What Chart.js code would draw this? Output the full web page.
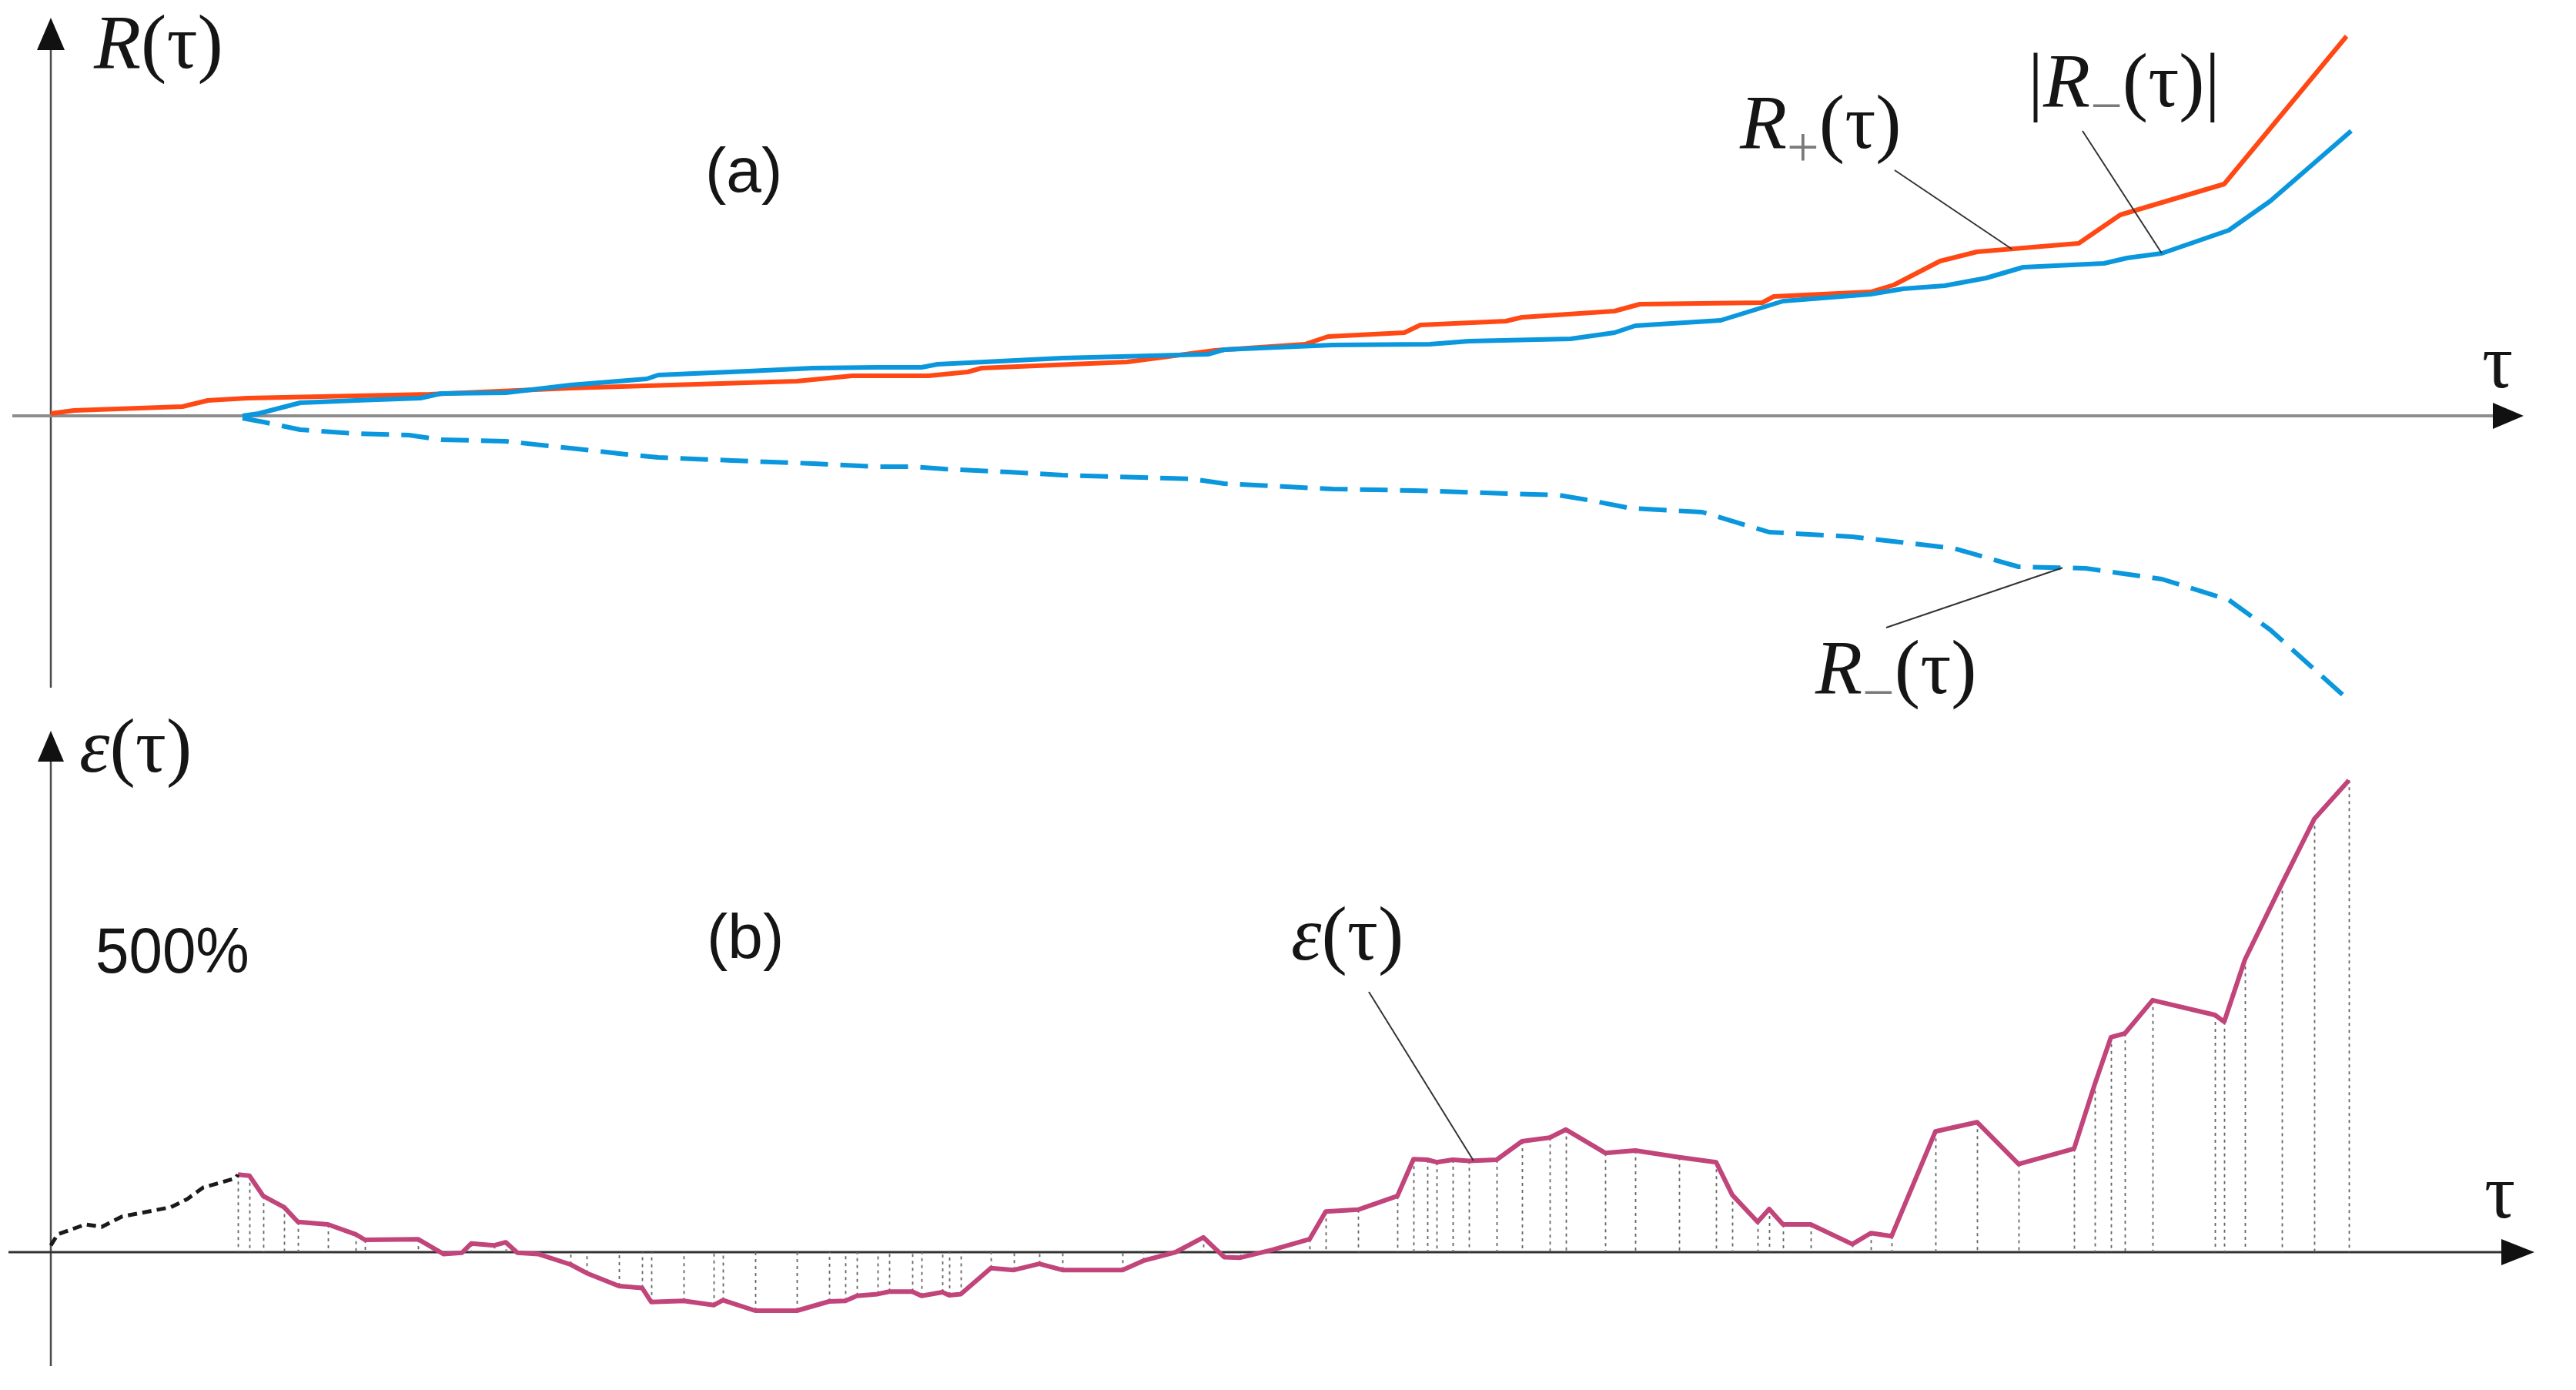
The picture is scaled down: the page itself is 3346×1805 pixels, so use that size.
<!DOCTYPE html>
<html>
<head>
<meta charset="utf-8">
<script src="https://cdn.jsdelivr.net/npm/chart.js@4.4.1/dist/chart.umd.min.js"></script>
<style>
  html, body { margin:0; padding:0; background:#fff; }
  body { width:3346px; height:1805px; overflow:hidden; position:relative; }
  canvas { position:absolute; left:0; }
  .lbl { position:absolute; white-space:nowrap; line-height:normal; color:#151515; }
  .serif { font-family:'Liberation Serif','Times New Roman',serif; font-size:100px; }
  .sans { font-family:'Liberation Sans',Arial,sans-serif; font-size:82px; }
  .sub { font-size:74px; color:#7a7a7a; vertical-align:-24px; }
  .bl { display:inline-block; width:0; height:0; vertical-align:baseline; }
</style>
</head>
<body>
<canvas id="topChart" width="3346" height="920" style="top:0"></canvas>
<canvas id="botChart" width="3346" height="885" style="top:920px"></canvas>
<script>
// ---------------- DATA ----------------
// Panel (a): R+(τ)
const tauRplus = [0.0,1.0,5.7,6.8,8.5,16.4,20.2,22.5,32.3,34.7,38.0,39.7,40.3,46.6,50.4,54.3,55.3,58.6,59.3,63.0,63.7,67.7,68.8,74.1,74.6,78.8,79.8,81.8,83.4,87.8,89.6,94.1,99.4];
const Rplus    = [0.6,1.4,2.4,4.0,4.6,5.6,6.6,7.2,9.0,10.4,10.4,11.4,12.4,14.0,17.0,18.6,20.6,21.6,23.6,24.6,25.6,27.2,29.0,29.4,31.0,32.2,34.0,40.2,42.6,44.8,52.2,60.2,98.6];
// Panel (a): |R-(τ)|
const tauRabs = [8.3,9.0,10.8,13.2,16.0,16.9,19.7,22.5,25.8,26.3,30.2,33.0,35.8,37.7,38.4,43.8,50.1,50.8,55.5,59.7,61.4,65.8,67.7,68.6,72.3,75.0,78.8,80.2,82.0,83.8,85.4,88.9,89.9,91.4,94.3,96.1,99.6];
const Rabs    = [0,0.6,3.4,4.0,4.6,5.8,6.0,8.0,9.6,10.6,11.6,12.4,12.6,12.6,13.4,15.0,16.0,17.2,18.4,18.6,19.4,20.0,21.6,23.4,24.8,29.8,31.6,33.0,33.8,35.8,38.6,39.6,41.0,42.2,48.2,55.8,74.0];
// Panel (a): R-(τ)
const tauRminus = [8.3,9.2,10.8,13.2,15.5,16.9,19.7,22.5,24.9,26.3,29.5,33.0,35.8,37.3,38.7,41.5,43.8,49.4,50.8,55.5,59.0,65.3,66.7,68.4,71.5,74.4,78.0,82.4,85.2,88.1,91.4,94.3,96.1,99.6];
const Rminus    = [-0.6,-1.6,-3.6,-4.6,-5.0,-6.2,-6.6,-8.4,-10.0,-10.8,-11.6,-12.4,-13.2,-13.2,-13.8,-14.6,-15.4,-16.4,-17.6,-19.0,-19.4,-20.6,-22.0,-24.0,-25.0,-30.2,-31.4,-34.4,-39.2,-39.6,-42.4,-47.8,-55.6,-74.4];
// Panel (b): ε(τ), early dashed part (%)
const tauEpsEarly = [0.0,0.3,1.5,2.2,3.1,5.2,5.9,6.6,8.0,8.1];
const epsEarly    = [11,29,45,41,58,73,86,105,120,126];
// Panel (b): ε(τ) (%)
const tauEps = [8.1,8.6,9.2,10.1,10.7,12.0,13.2,13.6,15.9,17.0,17.8,18.2,19.2,19.7,20.2,21.1,22.5,23.2,24.6,25.6,26.0,27.4,28.7,29.1,30.5,32.3,33.7,34.4,34.9,35.8,36.3,37.3,37.7,38.6,38.9,39.4,40.7,41.7,42.8,43.8,46.4,47.3,48.7,49.9,50.8,51.5,52.9,54.5,55.2,56.6,58.3,59.0,59.6,60.0,60.7,61.4,62.6,63.7,64.9,65.6,67.3,68.6,70.5,72.1,72.8,73.9,74.4,75.0,76.2,78.0,78.8,79.7,81.6,83.4,85.2,87.6,88.5,89.2,89.8,91.0,93.7,94.1,95.0,96.6,98.0,99.5];
const eps    = [126,124,91,73,49,45,29,20,21,-3,-1,14,11,16,-1,-3,-20,-34,-55,-58,-81,-79,-86,-78,-95,-95,-80,-79,-71,-68,-64,-64,-71,-65,-70,-68,-26,-29,-19,-29,-29,-14,0,24,-8,-9,4,21,66,69,91,151,150,146,150,148,150,180,186,199,161,165,154,146,93,49,70,45,45,13,31,26,196,211,143,168,273,349,355,409,385,374,475,598,703,766];

// Annotation targets (τ where each leader line touches its curve)
const leaderTauRplus = 84.9;
const leaderTauRabs = 91.4;
const leaderTauRminus = 87.1;
const leaderTauEps = 61.6;

// ---------------- LAYOUT ----------------
const L = {
  xMin:-2.2, xMax:109.333,
  topYMin:-76, topYMax:108,
  botYMin:-223.75, botYMax:882.5,
  top: { yAxisBottom:893, arrowTip:23, arrowBase:65, arrowHalf:18,
         xStart:16, xArrowBase:3238, xArrowTip:3278, xArrowHalf:17 },
  bot: { yAxisBottom:854, arrowTip:29, arrowBase:69, arrowHalf:17,
         xStart:11, xArrowBase:3249, xArrowTip:3292, xArrowHalf:17 },
  leadersTop: [ {from:[2461,221], s:'Rplus'}, {from:[2705,170], s:'Rabs'}, {from:[2450,815], s:'Rminus'} ],
  leadersBot: [ {from:[1778,368], s:'eps'} ]
};
const series = {
  Rplus:[tauRplus,Rplus,leaderTauRplus],
  Rabs:[tauRabs,Rabs,leaderTauRabs],
  Rminus:[tauRminus,Rminus,leaderTauRminus],
  eps:[tauEps,eps,leaderTauEps]
};
const COLORS = { red:'#ff4814', blue:'#0a97dd', magenta:'#c1447a', black:'#1a1a1a' };

function pts(t, v){ return t.map((x,i)=>({x:x, y:v[i]})); }
function ds(t, v, color, width, dash){
  return { data:pts(t,v), borderColor:color, borderWidth:width, borderDash:dash||[],
           pointRadius:0, tension:0, fill:false, borderCapStyle:'butt', borderJoinStyle:'round' };
}
function interp(t, v, q){
  for (let i=1;i<t.length;i++){ if (q<=t[i]){ const f=(q-t[i-1])/(t[i]-t[i-1]); return v[i-1]+f*(v[i]-v[i-1]); } }
  return v[v.length-1];
}
function seg(ctx,x1,y1,x2,y2){ ctx.beginPath(); ctx.moveTo(x1,y1); ctx.lineTo(x2,y2); ctx.stroke(); }
function tri(ctx,a,b,c){ ctx.beginPath(); ctx.moveTo(a[0],a[1]); ctx.lineTo(b[0],b[1]); ctx.lineTo(c[0],c[1]); ctx.closePath(); ctx.fill(); }

function axesPlugin(cfg, xColor, xWidth){
  return {
    id:'axesDecor',
    beforeDatasetsDraw(chart){
      const ctx = chart.ctx, xs = chart.scales.x, ys = chart.scales.y;
      const x0 = xs.getPixelForValue(0), y0 = ys.getPixelForValue(0);
      ctx.save();
      ctx.setLineDash([]);
      ctx.strokeStyle = '#4a4a4a'; ctx.lineWidth = 2.5;
      seg(ctx, x0, cfg.yAxisBottom, x0, cfg.arrowBase);
      ctx.fillStyle = '#111';
      tri(ctx, [x0, cfg.arrowTip], [x0-cfg.arrowHalf, cfg.arrowBase], [x0+cfg.arrowHalf, cfg.arrowBase]);
      ctx.strokeStyle = xColor; ctx.lineWidth = xWidth;
      seg(ctx, cfg.xStart, y0, cfg.xArrowBase, y0);
      tri(ctx, [cfg.xArrowTip, y0], [cfg.xArrowBase, y0-cfg.xArrowHalf], [cfg.xArrowBase, y0+cfg.xArrowHalf]);
      ctx.restore();
    }
  };
}
function leaderPlugin(list){
  return {
    id:'leaders',
    afterDatasetsDraw(chart){
      const ctx = chart.ctx, xs = chart.scales.x, ys = chart.scales.y;
      ctx.save(); ctx.setLineDash([]); ctx.strokeStyle = '#333'; ctx.lineWidth = 2;
      list.forEach(l => {
        const [t,v,q] = series[l.s];
        seg(ctx, l.from[0], l.from[1], xs.getPixelForValue(q), ys.getPixelForValue(interp(t,v,q)));
      });
      ctx.restore();
    }
  };
}
const dropLines = {
  id:'dropLines',
  beforeDatasetsDraw(chart){
    const ctx = chart.ctx, ys = chart.scales.y, y0 = ys.getPixelForValue(0);
    const meta = chart.getDatasetMeta(1);
    ctx.save(); ctx.strokeStyle = '#666'; ctx.lineWidth = 1.8; ctx.setLineDash([4,5]);
    meta.data.forEach(p => seg(ctx, Math.round(p.x)+0.5, p.y, Math.round(p.x)+0.5, y0));
    ctx.restore();
  }
};

const baseOpts = (ymin, ymax) => ({
  responsive:false, animation:false, devicePixelRatio:1, events:[],
  layout:{ padding:0 },
  plugins:{ legend:{display:false}, tooltip:{enabled:false}, title:{display:false} },
  scales:{
    x:{ type:'linear', min:L.xMin, max:L.xMax, display:false },
    y:{ type:'linear', min:ymin, max:ymax, display:false }
  }
});

new Chart(document.getElementById('topChart'), {
  type:'line',
  data:{ datasets:[
    ds(tauRminus, Rminus, COLORS.blue, 6, [36,16]),
    ds(tauRabs, Rabs, COLORS.blue, 6),
    ds(tauRplus, Rplus, COLORS.red, 6)
  ]},
  options: baseOpts(L.topYMin, L.topYMax),
  plugins:[ axesPlugin(L.top, '#8c8c8c', 4), leaderPlugin(L.leadersTop) ]
});

new Chart(document.getElementById('botChart'), {
  type:'line',
  data:{ datasets:[
    ds(tauEpsEarly, epsEarly, COLORS.black, 5, [12,7]),
    ds(tauEps, eps, COLORS.magenta, 6)
  ]},
  options: baseOpts(L.botYMin, L.botYMax),
  plugins:[ axesPlugin(L.bot, '#333', 3), dropLines, leaderPlugin(L.leadersBot) ]
});

// ---------------- TEXT LABELS ----------------
function label(html, left, baseline, cls, extra){
  const d = document.createElement('div');
  d.className = 'lbl ' + cls;
  d.innerHTML = html + '<span class="bl"></span>';
  d.style.left = left + 'px';
  d.style.top = '0px';
  if (extra) Object.assign(d.style, extra);
  document.body.appendChild(d);
  const bl = d.querySelector('.bl');
  d.style.top = (baseline - bl.offsetTop) + 'px';
}
label('<i>R</i>(τ)', 122, 88, 'serif');
label('(a)', 916, 249, 'sans');
label('τ', 3224, 503, 'serif');
label('<i>R</i><span class="sub">+</span>(τ)', 2260, 192, 'serif');
label('|<i>R</i><span class="sub">−</span>(τ)|', 2634, 138, 'serif');
label('<i>R</i><span class="sub">−</span>(τ)', 2358, 900, 'serif');
label('<i>ε</i>(τ)', 103, 1002, 'serif');
label('500%', 124, 1263, 'sans', {fontSize:'84px', transform:'scaleX(0.93)', transformOrigin:'left bottom'});
label('(b)', 918, 1244, 'sans');
label('<i>ε</i>(τ)', 1677, 1246, 'serif');
label('τ', 3227, 1581, 'serif');
</script>
</body>
</html>
